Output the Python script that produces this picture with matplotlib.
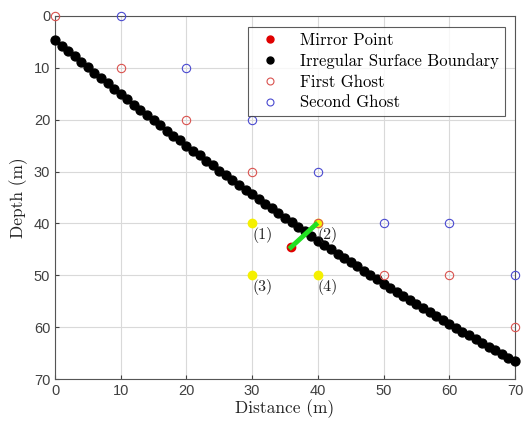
import numpy as np
import matplotlib
matplotlib.use("Agg")
import matplotlib.pyplot as plt

# boundary samples (distance, depth)
boundary_x = list(range(0, 71))
boundary_depth = [
    4.6, 5.7, 6.7, 7.8, 8.9, 9.9, 11.0, 12.0, 13.0, 14.1,
    15.1, 16.1, 17.1, 18.1, 19.1, 20.1, 21.1, 22.1, 23.1, 24.0,
    25.0, 26.0, 26.9, 27.9, 28.8, 29.8, 30.7, 31.6, 32.6, 33.5,
    34.4, 35.3, 36.2, 37.1, 38.0, 38.9, 39.8, 40.7, 41.5, 42.4,
    43.3, 44.1, 45.0, 45.8, 46.7, 47.5, 48.3, 49.1, 50.0, 50.8,
    51.6, 52.4, 53.2, 54.0, 54.8, 55.5, 56.3, 57.1, 57.8, 58.6,
    59.4, 60.1, 60.9, 61.6, 62.3, 63.0, 63.8, 64.5, 65.2, 65.9,
    66.6,
]

first_ghost_x = [0, 10, 20, 30, 40, 50, 60, 70]
first_ghost_depth = [0, 10, 20, 30, 40, 50, 50, 60]

second_ghost_x = [10, 20, 30, 40, 50, 60, 70]
second_ghost_depth = [0, 10, 20, 30, 40, 40, 50]

stencil_x = [30, 40, 30, 40]
stencil_depth = [40, 40, 50, 50]
stencil_labels = ["(1)", "(2)", "(3)", "(4)"]

mirror_x = [35.9]
mirror_depth = [44.6]
link_x = [35.9, 39.7]
link_depth = [44.6, 40.2]

serif = "cmr10"
tick_color = "#404040"

fig = plt.figure(figsize=(5.23, 4.23), dpi=100)
ax = fig.add_axes([0.1052, 0.104, 0.8795, 0.8582])

ax.plot(boundary_x, boundary_depth, "o", color="black", markersize=6.4,
        linestyle="none", zorder=3, clip_on=False)
ax.plot(stencil_x, stencil_depth, "o", color="#f5f000", markersize=6,
        linestyle="none", zorder=4)
ax.plot(first_ghost_x, first_ghost_depth, "o", markerfacecolor="none",
        markeredgecolor="#d9534f", markersize=6, markeredgewidth=0.8,
        linestyle="none", zorder=5, clip_on=False)
ax.plot(second_ghost_x, second_ghost_depth, "o", markerfacecolor="none",
        markeredgecolor="#4a4ad0", markersize=6, markeredgewidth=0.8,
        linestyle="none", zorder=5, clip_on=False)
ax.plot(link_x, link_depth, "-", color="#22e022", linewidth=3.5, zorder=6)
ax.plot(mirror_x, mirror_depth, "o", color="#e00000", markersize=6,
        linestyle="none", zorder=5)

for x, d, lab in zip(stencil_x, stencil_depth, stencil_labels):
    ax.text(x, d + 2.3, lab, fontfamily=serif, fontsize=11.5,
            ha="left", va="center", color="#222222", zorder=7)

# legend proxies
h1, = ax.plot([], [], "o", color="#e00000", markersize=5, linestyle="none")
h2, = ax.plot([], [], "o", color="black", markersize=5, linestyle="none")
h3, = ax.plot([], [], "o", markerfacecolor="none", markeredgecolor="#d9534f",
              markersize=5, markeredgewidth=0.8, linestyle="none")
h4, = ax.plot([], [], "o", markerfacecolor="none", markeredgecolor="#4a4ad0",
              markersize=5, markeredgewidth=0.8, linestyle="none")
leg = ax.legend([h1, h2, h3, h4],
                ["Mirror Point", "Irregular Surface Boundary", "First Ghost", "Second Ghost"],
                loc="upper right", bbox_to_anchor=(0.978, 0.97),
                prop={"family": serif, "size": 12}, frameon=True, fancybox=False,
                borderpad=0.35, labelspacing=0.32, handletextpad=0.8,
                handlelength=2.0, borderaxespad=0)
leg.get_frame().set_edgecolor("#333333")
leg.get_frame().set_linewidth(0.8)
leg.set_zorder(10)

ax.set_xlim(0, 70)
ax.set_ylim(70, 0)
ax.set_xticks(np.arange(0, 71, 10))
ax.set_yticks(np.arange(0, 71, 10))
ax.grid(True, color="#d9d9d9", linewidth=0.8)
ax.set_axisbelow(True)
ax.tick_params(direction="in", length=3, colors=tick_color, labelsize=10.5,
               top=False, right=False)
for lab in ax.get_xticklabels() + ax.get_yticklabels():
    lab.set_fontfamily("Liberation Sans")
for s in ax.spines.values():
    s.set_color("#555555")
    s.set_linewidth(0.8)

ax.set_xlabel("Distance (m)", fontfamily=serif, fontsize=12.5, color="#222222", labelpad=1)
ax.set_ylabel("Depth (m)", fontfamily=serif, fontsize=12.5, color="#222222", labelpad=4)

fig.savefig("out.png", dpi=100)
